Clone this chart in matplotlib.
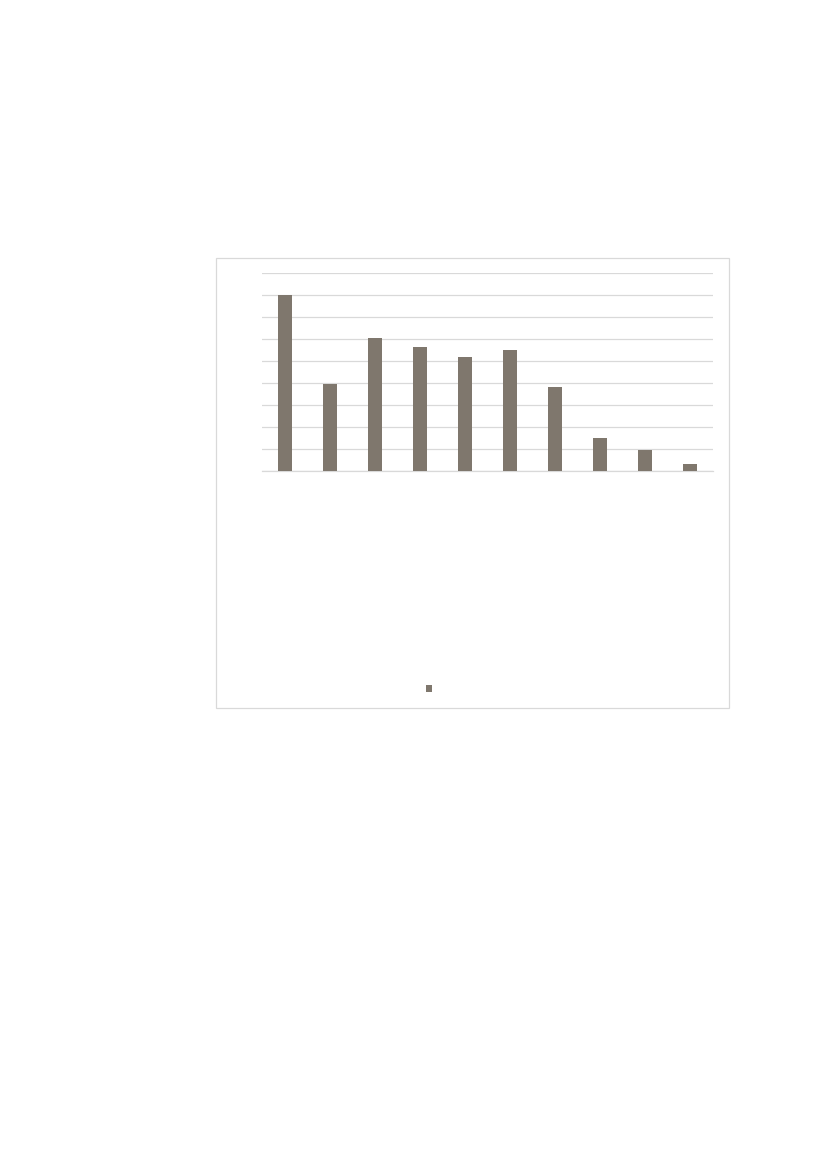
import matplotlib
matplotlib.use("Agg")
import matplotlib.pyplot as plt
from matplotlib.patches import Rectangle, Patch

categories = ["C1", "C2", "C3", "C4", "C5", "C6", "C7", "C8", "C9", "C10"]
values = [8.0, 3.95, 6.05, 5.65, 5.2, 5.5, 3.82, 1.5, 0.95, 0.3]
series_name = ""

bar_color = "#7F776D"
grid_color = "#D9D9D9"

fig = plt.figure(figsize=(8.27, 11.70), dpi=100)
fig.patch.set_facecolor("white")

# chart area frame
fig.patches.append(Rectangle((216 / 827, 1 - 708 / 1170), 513 / 827, 450 / 1170,
                             transform=fig.transFigure, fill=False,
                             edgecolor=grid_color, linewidth=0.9))

ax = fig.add_axes([262 / 827, 1 - 470.7 / 1170, 451 / 827, 197.4 / 1170])
x = list(range(len(categories)))
ax.bar(x, values, width=0.31, color=bar_color, zorder=3)
ax.set_xlim(-0.5, len(categories) - 0.5)
ax.set_ylim(0, 9)
ax.set_yticks(range(0, 10))
ax.set_xticks(x)
ax.yaxis.grid(True, color=grid_color, linewidth=0.9)
ax.set_axisbelow(True)
for side in ["top", "right", "left"]:
    ax.spines[side].set_visible(False)
ax.spines["bottom"].set_color(grid_color)
ax.spines["bottom"].set_linewidth(0.9)
ax.tick_params(left=False, bottom=False, labelleft=False, labelbottom=False)

fig.legend(handles=[Patch(facecolor=bar_color)], labels=[series_name],
           loc="center", bbox_to_anchor=(429 / 827, 1 - 689 / 1170),
           frameon=False, fontsize=7, handlelength=0.62, handleheight=0.62,
           handletextpad=0, borderpad=0)

fig.savefig("out.png", dpi=100, facecolor="white")
